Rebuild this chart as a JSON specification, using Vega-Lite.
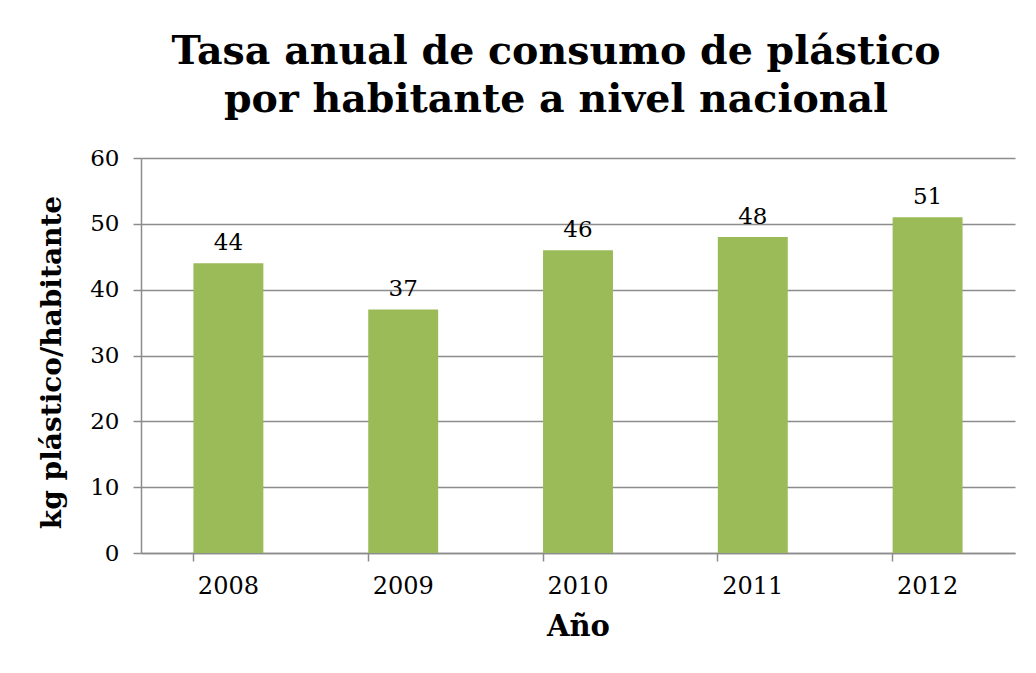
{
  "$schema": "https://vega.github.io/schema/vega-lite/v6.json",
  "width": 874,
  "height": 395,
  "autosize": "none",
  "padding": {"left": 141, "top": 158, "right": 21, "bottom": 120},
  "background": "white",
  "title": {
    "text": ["Tasa anual de consumo de plástico", "por habitante a nivel nacional"],
    "font": "DejaVu Serif",
    "fontSize": 39.5,
    "fontWeight": "bold",
    "color": "black",
    "lineHeight": 48,
    "anchor": "middle",
    "dx": -22,
    "dy": 47,
    "baseline": "alphabetic",
    "offset": 43
  },
  "data": {
    "values": [
      {"year": "2008", "value": 44},
      {"year": "2009", "value": 37},
      {"year": "2010", "value": 46},
      {"year": "2011", "value": 48},
      {"year": "2012", "value": 51}
    ]
  },
  "encoding": {
    "x": {
      "field": "year",
      "type": "ordinal",
      "scale": {"paddingInner": 0.6, "paddingOuter": 0.3},
      "axis": {
        "title": "Año",
        "labelAngle": 0,
        "bandPosition": 0,
        "ticks": true,
        "tickSize": 8,
        "tickColor": "#8c8c8c",
        "tickWidth": 1.5,
        "domainColor": "#8c8c8c",
        "domainWidth": 1.5,
        "labelFont": "DejaVu Serif",
        "labelFontSize": 24,
        "labelColor": "black",
        "labelPadding": 13,
        "titleFont": "DejaVu Serif",
        "titleFontSize": 29,
        "titleFontWeight": "bold",
        "titleColor": "black",
        "titlePadding": 14,
        "grid": false
      }
    },
    "y": {
      "field": "value",
      "type": "quantitative",
      "scale": {"domain": [0, 60]},
      "axis": {
        "title": "kg plástico/habitante",
        "values": [0, 10, 20, 30, 40, 50, 60],
        "tickSize": 8,
        "tickColor": "#8c8c8c",
        "tickWidth": 1.5,
        "domainColor": "#8c8c8c",
        "domainWidth": 1.5,
        "grid": true,
        "gridColor": "#8c8c8c",
        "gridWidth": 1.5,
        "labelFont": "DejaVu Serif",
        "labelFontSize": 23,
        "labelColor": "black",
        "labelPadding": 14,
        "titleFont": "DejaVu Serif",
        "titleFontSize": 28,
        "titleFontWeight": "bold",
        "titleColor": "black",
        "titleY": 204,
        "titleX": -89,
        "titleBaseline": "middle"
      }
    }
  },
  "layer": [
    {"mark": {"type": "bar", "color": "#9BBB59"}},
    {
      "mark": {"type": "text", "baseline": "alphabetic", "dy": -13, "font": "DejaVu Serif", "fontSize": 23, "color": "black"},
      "encoding": {"text": {"field": "value", "type": "quantitative"}}
    }
  ],
  "config": {
    "view": {"stroke": null}
  }
}
